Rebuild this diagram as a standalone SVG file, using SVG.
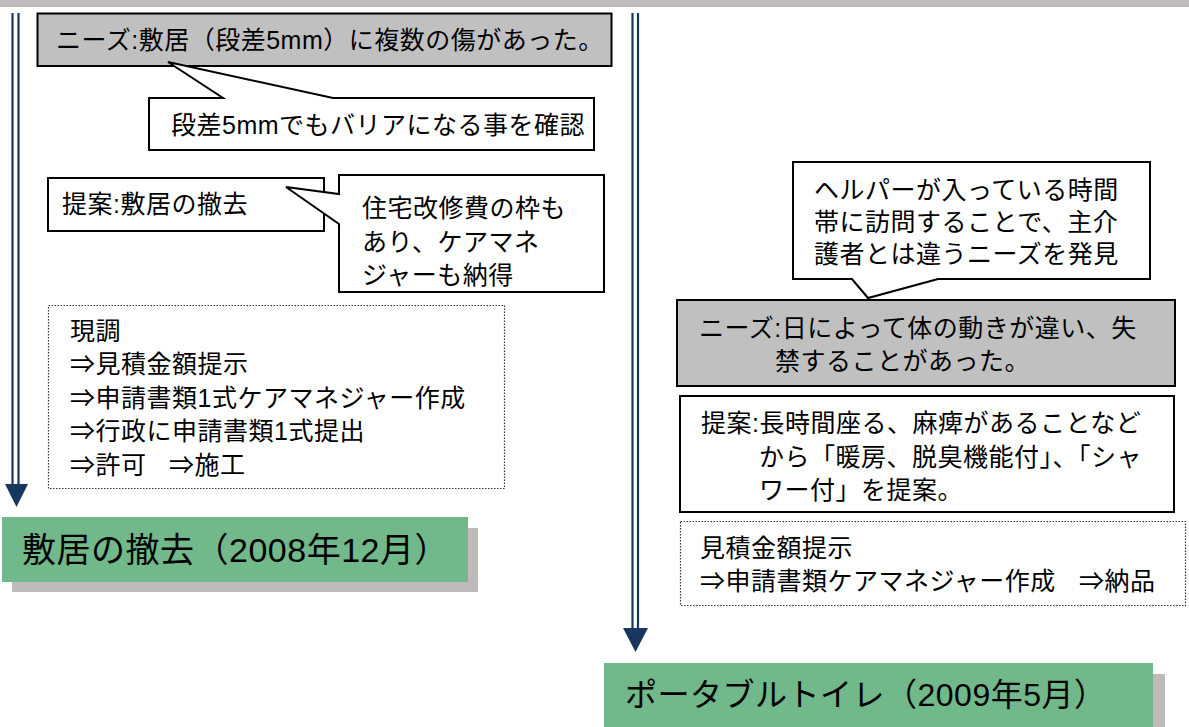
<svg xmlns="http://www.w3.org/2000/svg" width="1189" height="727" viewBox="0 0 1189 727">
<defs>
<style>
text{font-family:"Liberation Sans","Noto Sans CJK JP",sans-serif;font-size:25px;letter-spacing:0.5px;fill:#000}
.title{font-size:32px;letter-spacing:0.5px}
.title1{font-size:34px;letter-spacing:0.5px}
.box{fill:#fff;stroke:#000;stroke-width:2}
.need{fill:#c0c0c0;stroke:#000;stroke-width:2}
.dot{fill:#fff;stroke:#333;stroke-width:1.2;stroke-dasharray:1.5 1.5}
.green{fill:#71b88a}
.shadow{fill:#bfbbbb}
.line{stroke:#17375e;stroke-width:2.2;fill:none}
.head{fill:#17375e}
</style>
</defs>
<rect x="0" y="0" width="1189" height="7" fill="#bfbbbb"/>
<g id="connectors">
<line class="line" x1="12.5" y1="13" x2="12.5" y2="486"/>
<line class="line" x1="18.5" y1="13" x2="18.5" y2="486"/>
<polygon class="head" points="5,484 28,484 16.5,507"/>
<line class="line" x1="632.5" y1="13" x2="632.5" y2="630"/>
<line class="line" x1="638" y1="13" x2="638" y2="630"/>
<polygon class="head" points="623,628 648,628 635.5,652"/>
</g>
<g id="need1">
<rect class="need" x="37.5" y="13.5" width="574" height="52.5"/>
<text x="56" y="49">ニーズ:敷居（段差5mm）に複数の傷があった。</text>
</g>
<g id="callout1">
<path class="box" d="M149,98 L223,98 L168,62 L333,98 L594,98 L594,150 L149,150 Z"/>
<text x="171" y="134">段差5mmでもバリアになる事を確認</text>
</g>
<g id="proposal1">
<rect class="box" x="48" y="178" width="276" height="53"/>
<text x="62" y="213">提案:敷居の撤去</text>
</g>
<g id="callout2">
<path class="box" d="M339,175 L604,175 L604,292 L339,292 L339,224 L286,187 L339,194 Z"/>
<text x="362" y="217">住宅改修費の枠も</text>
<text x="362" y="251">あり、ケアマネ</text>
<text x="362" y="284">ジャーも納得</text>
</g>
<g id="process1">
<rect class="dot" x="48.5" y="305.5" width="456" height="183"/>
<text x="70" y="340">現調</text>
<text x="70" y="373">⇒見積金額提示</text>
<text x="70" y="407">⇒申請書類1式ケアマネジャー作成</text>
<text x="70" y="440">⇒行政に申請書類1式提出</text>
<text x="70" y="474">⇒許可<tspan x="169">⇒施工</tspan></text>
</g>
<g id="result1">
<rect class="shadow" x="12" y="528" width="466" height="64"/>
<rect class="green" x="2" y="517" width="466" height="65"/>
<text class="title1" x="22" y="562">敷居の撤去（2008年12月）</text>
</g>
<g id="callout3">
<path class="box" d="M793,162 L1150,162 L1150,279 L938,279 L868,298 L852,279 L793,279 Z"/>
<text x="814" y="199">ヘルパーが入っている時間</text>
<text x="814" y="231">帯に訪問することで、主介</text>
<text x="814" y="263">護者とは違うニーズを発見</text>
</g>
<g id="need2">
<rect class="need" x="677" y="300" width="498" height="86"/>
<text x="699" y="337">ニーズ:日によって体の動きが違い、失</text>
<text x="775" y="370">禁することがあった。</text>
</g>
<g id="proposal2">
<rect class="box" x="680" y="396" width="494" height="116"/>
<text x="701" y="432">提案:長時間座る、麻痺があることなど</text>
<text x="759" y="466">から「暖房、脱臭機能付」、「シャ</text>
<text x="759" y="499">ワー付」を提案。</text>
</g>
<g id="process2">
<rect class="dot" x="680.5" y="521.5" width="505" height="84"/>
<text x="700" y="557">見積金額提示</text>
<text x="700" y="590">⇒申請書類ケアマネジャー作成<tspan x="1079">⇒納品</tspan></text>
</g>
<g id="result2">
<rect class="shadow" x="614" y="674" width="551" height="60"/>
<rect class="green" x="604" y="663" width="549" height="70"/>
<text class="title" x="625" y="706">ポータブルトイレ（2009年5月）</text>
</g>
</svg>
